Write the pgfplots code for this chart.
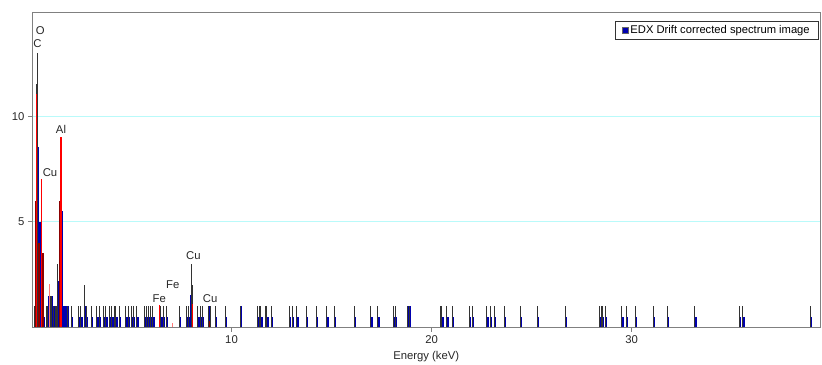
\documentclass[border=0pt]{standalone}
\usepackage{pgfplots}
\pgfplotsset{compat=1.18}
\usepackage{fontspec}
\setmainfont{Liberation Sans}
\definecolor{edxblue}{RGB}{0,0,175}
\definecolor{mkred}{RGB}{255,0,0}
\definecolor{mkdark}{RGB}{140,0,0}
\definecolor{mkpink}{RGB}{255,120,120}
\definecolor{gridcyan}{RGB}{185,250,250}
\definecolor{axgray}{RGB}{128,128,128}
\begin{document}
\begin{tikzpicture}
\begin{axis}[
  scale only axis, width=787.5bp, height=315.4bp,
  xmin=0.05, xmax=39.42, ymin=0, ymax=14.93,
  axis line style={draw=axgray, line width=0.8bp},
  xtick={10,20,30}, ytick={5,10},
  tick pos=left, tick align=outside, major tick length=4.5bp,
  tick style={draw=axgray, line width=0.8bp},
  ymajorgrids, grid style={draw=gridcyan, line width=0.9bp},
  font=\fontsize{11.3bp}{13bp}\selectfont,
  ticklabel style={font=\fontsize{11.3bp}{13bp}\selectfont, text=black!85},
  /pgf/number format/assume math mode=true,
  xlabel={Energy (keV)},
  xlabel style={text=black!85, yshift=-1bp},
  legend style={at={(1,1)}, anchor=north east, xshift=-1bp, yshift=-8.7bp,
    draw=black!80, line width=0.6bp, inner xsep=7bp, inner ysep=2.5bp,
    font=\fontsize{11.2bp}{13bp}\selectfont},
  legend cell align=left,
]
\coordinate (bl) at (rel axis cs:0,0);
\coordinate (tr) at (rel axis cs:1,1);
% blue (processed) spectrum
\addplot[ycomb, draw=edxblue, line width=2.3bp, forget plot] coordinates {
(0.17,1)(0.34,8.55)(0.44,5)(0.61,0.5)(0.76,0.5)(0.80,0.5)
(0.87,1.5)(0.93,1.5)(0.99,1.5)(1.04,1.5)(1.12,0.5)(1.20,1)(1.26,1)
(1.31,2.2)(1.36,2.2)(1.525,5.5)(1.62,1)(1.68,1)(1.74,1)(1.80,1)
(2.02,0.5)(2.38,0.5)(2.50,0.5)(2.66,1)(2.77,0.5)(3.02,0.5)(3.30,0.5)
(3.42,0.5)(3.63,0.5)(3.75,0.5)(3.93,0.5)(4.05,0.5)(4.17,0.5)(4.25,0.5)
(4.42,0.5)(4.75,0.5)(4.88,0.5)(5.02,0.5)(5.13,0.5)(5.30,0.5)(5.67,0.5)
(5.77,0.5)(5.88,0.5)(6.00,0.5)(6.10,0.5)(6.43,0.5)(6.50,0.5)(6.63,0.5)
(6.77,0.5)(7.42,0.5)(7.77,0.5)(7.88,0.5)(7.97,1.55)(8.35,0.5)(8.47,0.5)
(8.58,0.5)(8.88,1)(8.94,1)(9.22,0.5)(9.73,0.5)(10.46,1)(11.35,0.5)
(11.42,0.5)(11.50,0.5)(11.75,0.5)(11.80,0.5)(12.02,0.5)(12.93,0.5)
(13.08,0.5)(13.30,0.5)(13.77,0.5)(14.28,0.5)(14.81,0.5)(15.19,0.5)
(16.18,0.5)(17.00,0.5)(17.35,0.5)(18.13,0.5)(18.23,0.5)(18.85,1)(18.93,1)
(20.47,0.5)(20.55,0.5)(20.80,0.5)(21.07,0.5)(21.92,0.5)(22.08,0.5)
(22.80,0.5)(22.97,0.5)(23.17,0.5)(23.68,0.5)(24.48,0.5)(25.33,0.5)
(26.71,0.5)(28.43,0.5)(28.52,0.5)(28.58,0.5)(28.73,0.5)(29.55,0.5)
(29.78,0.5)(30.23,0.5)(31.13,0.5)(31.83,0.5)(33.20,0.5)(35.42,0.5)
(35.60,0.5)(38.98,0.5)
};
% raw counts
\addplot[ycomb, draw=black!80, line width=0.9bp, forget plot] coordinates {
(0.16,1)(0.21,6)(0.265,11.5)(0.29,13)(0.375,4)(0.51,7)(0.56,3.5)
(0.61,1)(0.75,1)(0.80,1)(0.93,1.5)(0.98,1.5)(1.09,1)(1.18,1)(1.25,1)
(1.32,3)(1.41,6)(1.8,1)(1.98,1)(2.34,1)(2.46,1)(2.63,2)(2.73,1)
(2.98,1)(3.26,1)(3.38,1)(3.59,1)(3.71,1)(3.89,1)(4.01,1)(4.13,1)
(4.21,1)(4.38,1)(4.71,1)(4.84,1)(4.98,1)(5.09,1)(5.26,1)(5.63,1)
(5.73,1)(5.84,1)(5.96,1)(6.06,1)(6.39,1)(6.46,1)(6.59,1)(6.73,1)
(7.38,1)(7.73,1)(7.84,1)(7.98,3)(8.04,2)(8.31,1)(8.43,1)(8.54,1)
(8.86,1)(8.93,1)(9.18,1)(9.69,1)(10.43,1)(11.31,1)(11.38,1)(11.46,1)
(11.71,1)(11.76,1)(11.98,1)(12.89,1)(13.04,1)(13.26,1)(13.73,1)
(14.24,1)(14.77,1)(15.15,1)(16.14,1)(16.96,1)(17.31,1)(18.09,1)
(18.19,1)(18.81,1)(18.89,1)(20.43,1)(20.51,1)(20.76,1)(21.03,1)
(21.88,1)(22.04,1)(22.76,1)(22.93,1)(23.13,1)(23.64,1)(24.44,1)
(25.29,1)(26.67,1)(28.39,1)(28.48,1)(28.54,1)(28.69,1)(29.51,1)
(29.74,1)(30.19,1)(31.09,1)(31.79,1)(33.16,1)(35.38,1)(35.56,1)
(38.94,1)
};
% element markers
\addplot[ycomb, draw=mkdark, line width=1.6bp, forget plot] coordinates {
(0.21,6)(0.375,4)(0.56,3.5)(1.41,6)(8.9,0.3)
};
\addplot[ycomb, draw=mkred, line width=1.1bp, forget plot] coordinates {
(0.255,11.07)(0.52,7.03)(1.475,9.02)(6.39,1.05)(8.04,1.1)
};
\addplot[ycomb, draw=mkpink, line width=1.0bp, forget plot] coordinates {
(0.89,2.05)(7.06,0.2)
};
\addlegendimage{area legend, draw=black!70, fill=edxblue,
  legend image code/.code={\filldraw[draw=black!60, fill=edxblue] (0bp,-2.9bp) rectangle (5.8bp,2.9bp);}}
\addlegendentry{EDX Drift corrected spectrum image}
% peak labels
\node[text=black!85, inner sep=0pt] at (axis cs:0.435,14.07) {O};
\node[text=black!85, inner sep=0pt] at (axis cs:0.30,13.41) {C};
\node[text=black!85, inner sep=0pt] at (axis cs:0.925,7.35) {Cu};
\node[text=black!85, inner sep=0pt] at (axis cs:1.475,9.39) {Al};
\node[text=black!85, inner sep=0pt] at (axis cs:6.39,1.37) {Fe};
\node[text=black!85, inner sep=0pt] at (axis cs:7.06,2.03) {Fe};
\node[text=black!85, inner sep=0pt] at (axis cs:8.09,3.38) {Cu};
\node[text=black!85, inner sep=0pt] at (axis cs:8.93,1.37) {Cu};
\end{axis}
\pgfresetboundingbox
\path[use as bounding box] ([xshift=-32.5bp,yshift=-37.6bp]bl) rectangle ([xshift=2bp,yshift=12bp]tr);
\end{tikzpicture}
\end{document}
